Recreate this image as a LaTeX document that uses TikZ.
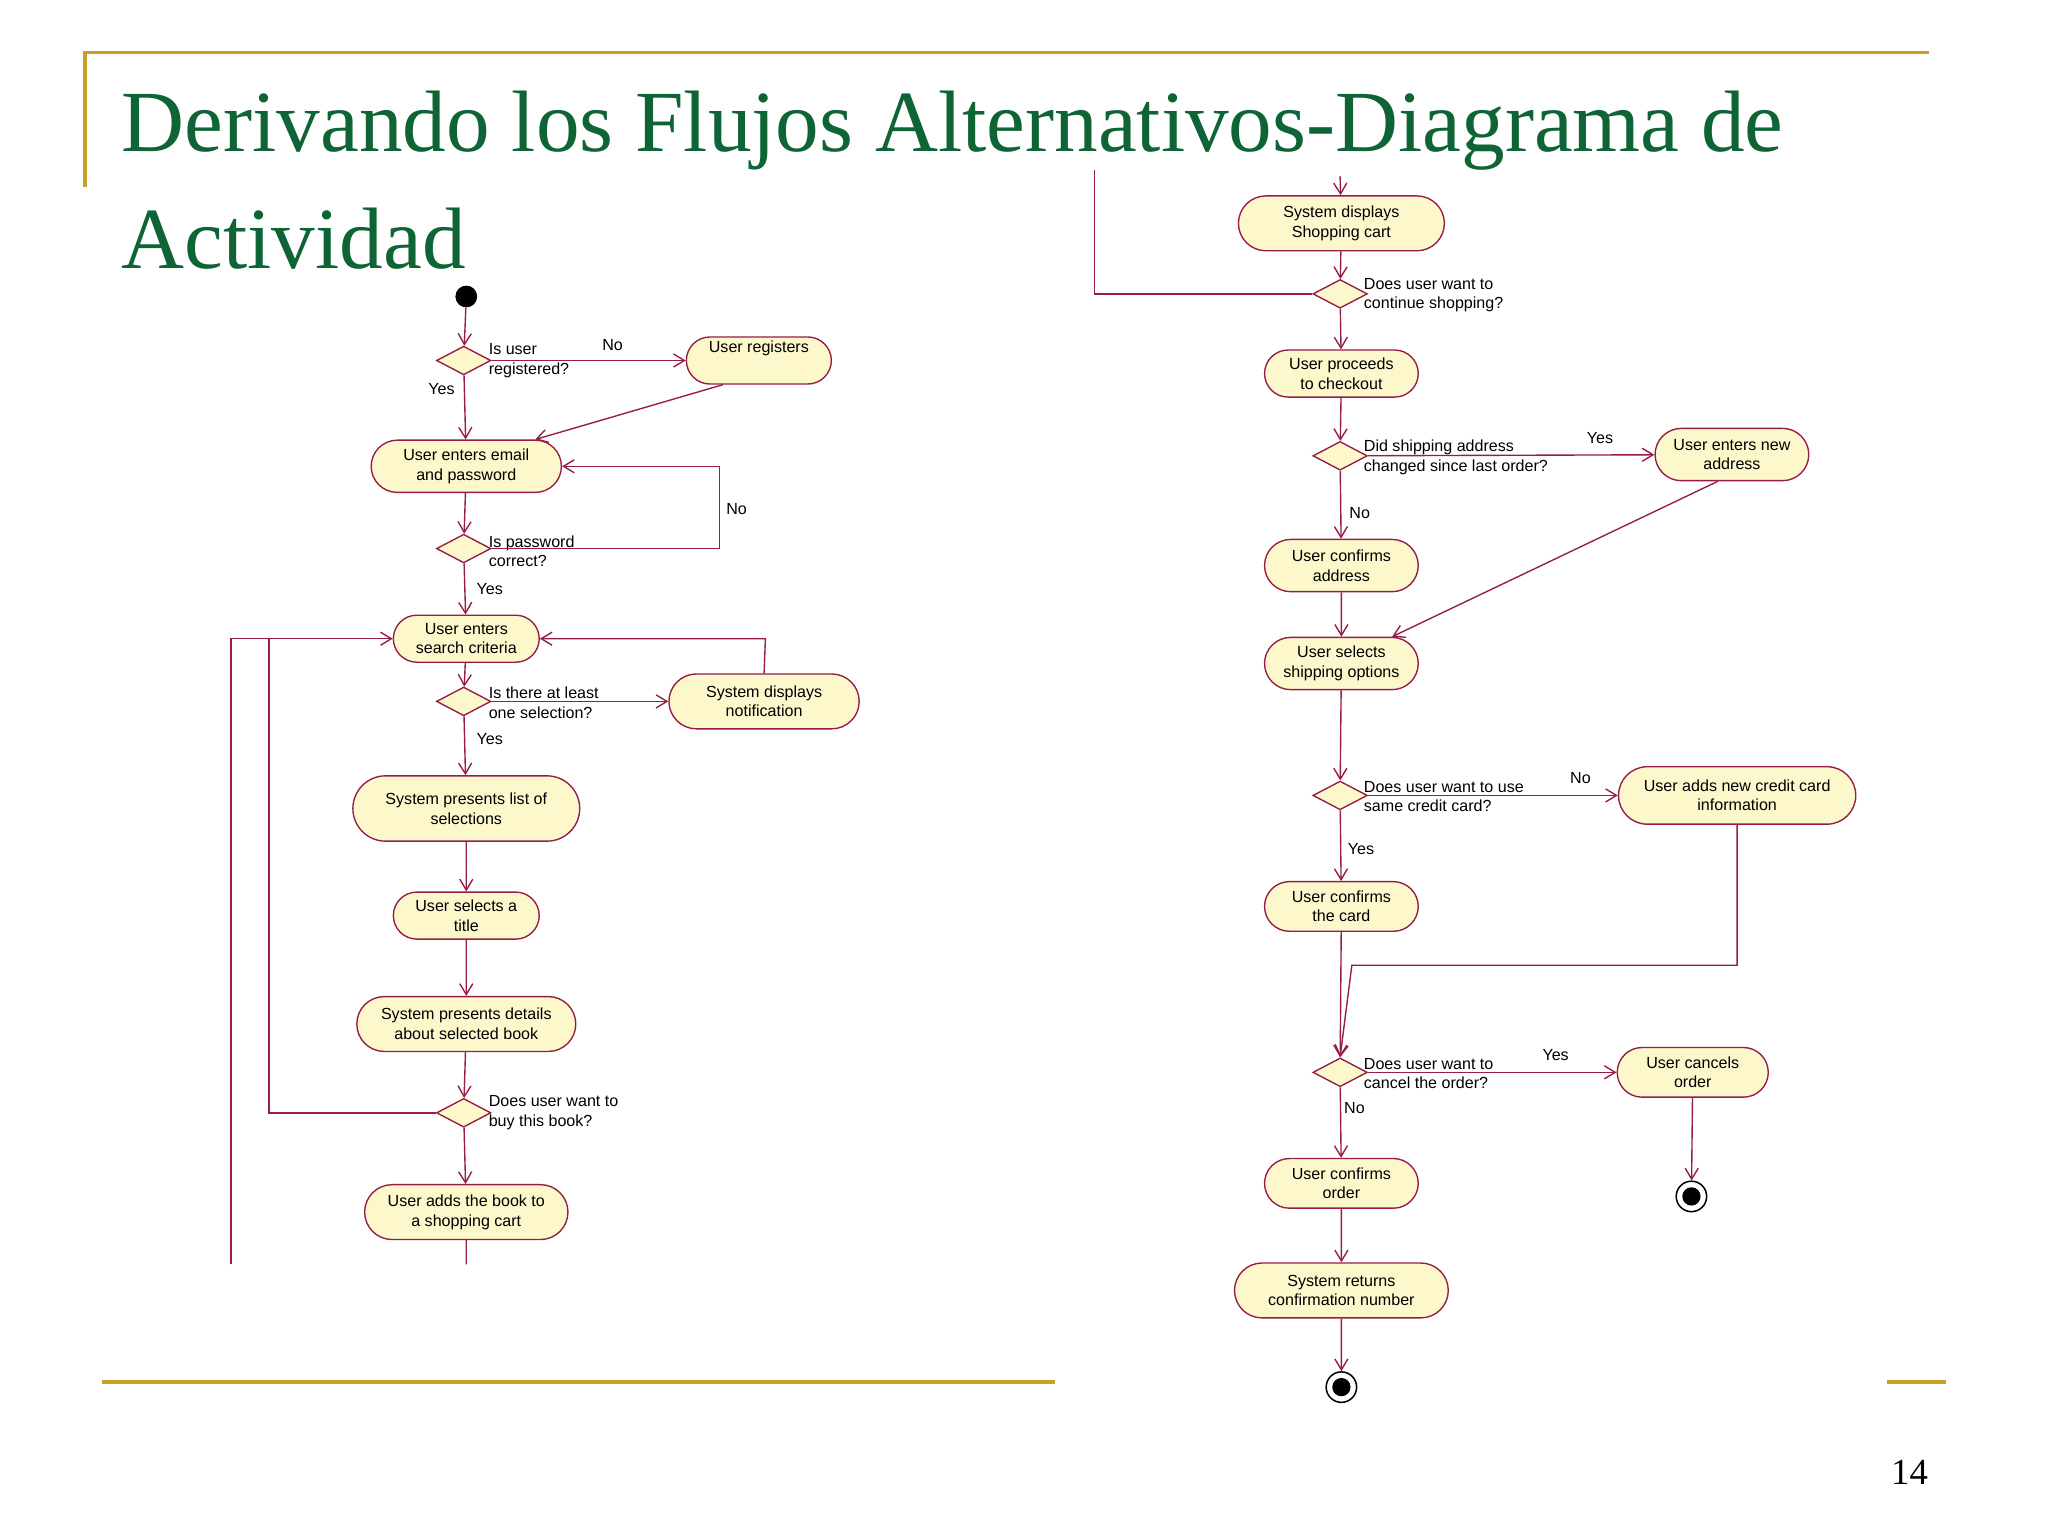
\documentclass[tikz,border=0pt]{standalone}
\usepackage{fontspec}
\setmainfont{Liberation Serif}
\newfontfamily\lab{Liberation Sans}
\usetikzlibrary{arrows.meta,shapes.geometric,shapes.misc}
\definecolor{gold}{RGB}{201,160,40}
\definecolor{ttl}{RGB}{14,100,52}
\definecolor{mar}{RGB}{150,30,70}
\definecolor{fil}{RGB}{252,248,204}
\tikzset{
 act/.style={rounded rectangle,draw=mar,fill=fil,line width=0.9pt,align=center,inner sep=1pt,font=\lab\fontsize{10.5}{12.8}\selectfont},
 dec/.style={diamond,draw=mar,fill=fil,line width=0.9pt,inner sep=0pt,minimum width=1.25cm,minimum height=0.66cm},
 lbl/.style={font=\lab\fontsize{10.5}{12.8}\selectfont,align=left,inner sep=0pt},
 fl/.style={draw=mar,line width=0.9pt,-{Straight Barb[length=2.5mm,width=3mm]}},
 ln/.style={draw=mar,line width=0.9pt},
 gl/.style={draw=gold,line width=2.2pt}
}
\begin{document}
\begin{tikzpicture}[x=0.03cm,y=-0.03cm]
\useasboundingbox (0,0) rectangle (1568,1176);
\fill[white] (0,0) rectangle (1568,1176);
\draw[gl] (65,143)--(65,40)--(1477,40);
\draw[gl] (78,1058)--(808,1058);
\draw[gl] (1445,1058)--(1490,1058);
\node[anchor=west,text=ttl,font=\fontsize{57}{80}\selectfont,inner sep=0pt] (t1) at (93,100) {Derivando los Flujos Alternativos-Diagrama de};
\node[anchor=west,text=ttl,font=\fontsize{57}{80}\selectfont,inner sep=0pt] (t2) at (93,183) {Actividad};
\node[font=\fontsize{24}{28}\selectfont] (pg) at (1462,1127) {14};
% left column
\node[circle,fill=black,minimum size=0.5cm,inner sep=0] (s) at (357,227) {};
\node[dec] (d1) at (355,276) {};
\node[lbl,anchor=west] (l1) at (374,276) {Is user\\registered?};
\node[lbl] (no1) at (469,264) {No};
\node[lbl] (y1) at (338,298) {Yes};
\node[act,minimum width=3.4cm,minimum height=1.08cm] (reg) at (581,276) {User registers\\[0.5em]};
\node[act,minimum width=4.44cm,minimum height=1.2cm] (em) at (357,357) {User enters email\\and password};
\node[dec] (d2) at (355,420) {};
\node[lbl,anchor=west] (l2) at (374,422) {Is password\\correct?};
\node[lbl] (no2) at (564,390) {No};
\node[lbl] (y2) at (375,451) {Yes};
\node[act,minimum width=3.42cm,minimum height=1.08cm] (se) at (357,489) {User enters\\search criteria};
\node[dec] (d3) at (355,537) {};
\node[lbl,anchor=west] (l3) at (374,538) {Is there at least\\one selection?};
\node[act,minimum width=4.44cm,minimum height=1.26cm] (no) at (585,537) {System displays\\notification};
\node[lbl] (y3) at (375,566) {Yes};
\node[act,minimum width=5.28cm,minimum height=1.5cm] (li) at (357,619) {System presents list of\\selections};
\node[act,minimum width=3.42cm,minimum height=1.08cm] (ti) at (357,701) {User selects a\\title};
\node[act,minimum width=5.1cm,minimum height=1.26cm] (de) at (357,784) {System presents details\\about selected book};
\node[dec] (d4) at (355,852) {};
\node[lbl,anchor=west] (l4) at (374,852) {Does user want to\\buy this book?};
\node[act,minimum width=4.74cm,minimum height=1.26cm] (ad) at (357,928) {User adds the book to\\a shopping cart};
\coordinate (ae) at (357,968);
\coordinate (b1) at (177,968);
\coordinate (b2) at (177,489);
\coordinate (b3) at (240,489);
\draw[fl] (s)--(d1);
\draw[fl] (d1)--(reg);
\draw[fl] (reg.south west)++(10,0) -- (em.north east);
\draw[fl] (d1)--(em);
\draw[fl] (em)--(d2);
\draw[fl] (d2.east)--(551,420)--(551,357)--(em.east);
\draw[fl] (d2)--(se);
\draw[fl] (se)--(d3);
\draw[fl] (d3)--(no);
\draw[fl] (no.north)--(586,489)--(se.east);
\draw[fl] (d3)--(li);
\draw[fl] (li)--(ti);
\draw[fl] (ti)--(de);
\draw[fl] (de)--(d4);
\draw[fl] (d4.west)--(206,852)--(206,489)--(se.west);
\draw[fl] (d4)--(ad);
\draw[ln] (ad)--(ae);
\draw[ln] (b1)--(b2)--(b3);
% right column
\coordinate (c0) at (1026,135);
\coordinate (c1) at (838,130);
\node[act,minimum width=4.8cm,minimum height=1.26cm] (ca) at (1027,171) {System displays\\Shopping cart};
\node[dec] (d5) at (1026,225) {};
\node[lbl,anchor=west] (l5) at (1044,226) {Does user want to\\continue shopping?};
\node[act,minimum width=3.6cm,minimum height=1.08cm] (ck) at (1027,286) {User proceeds\\to checkout};
\node[dec] (d6) at (1026,349) {};
\node[lbl,anchor=west] (l6) at (1044,350) {Did shipping address\\changed since last order?};
\node[lbl] (y6) at (1225,335) {Yes};
\node[act,minimum width=3.6cm,minimum height=1.2cm] (na) at (1326,348) {User enters new\\address};
\node[lbl] (no6) at (1041,393) {No};
\node[act,minimum width=3.6cm,minimum height=1.2cm] (cf) at (1027,433) {User confirms\\address};
\node[act,minimum width=3.6cm,minimum height=1.2cm] (sh) at (1027,508) {User selects\\shipping options};
\node[dec] (d7) at (1026,609) {};
\node[lbl,anchor=west] (l7) at (1044,610) {Does user want to use\\same credit card?};
\node[lbl] (no7) at (1210,596) {No};
\node[act,minimum width=5.52cm,minimum height=1.32cm] (nc) at (1330,609) {User adds new credit card\\information};
\node[lbl] (y7) at (1042,650) {Yes};
\node[act,minimum width=3.6cm,minimum height=1.14cm] (cc) at (1027,694) {User confirms\\the card};
\node[dec] (d8) at (1026,821) {};
\node[lbl,anchor=west] (l8) at (1044,822) {Does user want to\\cancel the order?};
\node[lbl] (y8) at (1191,808) {Yes};
\node[act,minimum width=3.54cm,minimum height=1.14cm] (cn) at (1296,821) {User cancels\\order};
\node[lbl] (no8) at (1037,848) {No};
\node[act,minimum width=3.6cm,minimum height=1.14cm] (co) at (1027,906) {User confirms\\order};
\node[act,minimum width=4.98cm,minimum height=1.26cm] (rt) at (1027,988) {System returns\\confirmation number};
\node[circle,draw=black,line width=1pt,minimum size=0.7cm,inner sep=0] (f1) at (1295,916) {};
\fill[black] (f1) circle (7);
\node[circle,draw=black,line width=1pt,minimum size=0.7cm,inner sep=0] (f2) at (1027,1062) {};
\fill[black] (f2) circle (7);
\draw[fl] (c0)--(ca);
\draw[fl] (ca)--(d5);
\draw[ln] (c1)--(838,225)--(d5.west);
\draw[fl] (d5)--(ck);
\draw[fl] (ck)--(d6);
\draw[fl] (d6)--(na);
\draw[fl] (d6)--(cf);
\draw[fl] (na.south west)++(28,0) -- (sh.north east);
\draw[fl] (cf)--(sh);
\draw[fl] (sh)--(d7);
\draw[fl] (d7)--(nc);
\draw[fl] (d7)--(cc);
\draw[fl] (cc)--(d8);
\draw[fl] (nc.south)--(1330,739)--(1035,739)--(d8.north);
\draw[fl] (d8)--(cn);
\draw[fl] (cn)--(f1);
\draw[fl] (d8)--(co);
\draw[fl] (co)--(rt);
\draw[fl] (rt)--(f2);
\end{tikzpicture}
\end{document}
